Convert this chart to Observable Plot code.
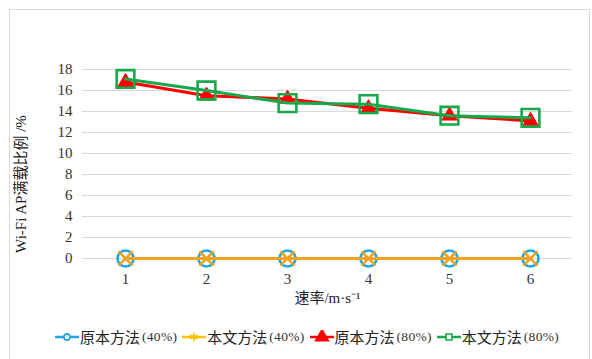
<!DOCTYPE html>
<html>
<head>
<meta charset="utf-8">
<script src="https://cdn.jsdelivr.net/npm/d3@7"></script>
<script src="https://cdn.jsdelivr.net/npm/@observablehq/plot@0.6"></script>
<style>
  html, body { margin: 0; padding: 0; background: #fff; }
  #wrap { position: relative; width: 592px; height: 359px; overflow: hidden; }
  #frame { position: absolute; left: 9px; top: 9px; width: 581px; height: 370px; border: 1px solid #d9d9d9; box-sizing: border-box; }
  #chart { position: absolute; left: 0; top: 0; }
  #legend { position: absolute; left: 55px; top: 327px; width: 530px; display: flex; justify-content: flex-start; align-items: center;
    font-family: "Noto Sans CJK SC", sans-serif; font-size: 15px; color: #222; line-height: 20px; }
  #legend .item { display: flex; align-items: center; margin-right: 5px; }
  #legend svg { margin-right: 1px; }
  #legend .pct { font-family: "Liberation Serif", serif; font-size: 13.5px; letter-spacing: 0.3px; margin-left: 2px; color: #333; }
</style>
</head>
<body>
<div id="wrap">
  <div id="frame"></div>
  <div id="chart"></div>
  <div id="legend"></div>
</div>
<script>
const speeds = [1, 2, 3, 4, 5, 6];
const seriesNames = ["原本方法(40%)", "本文方法(40%)", "原本方法(80%)", "本文方法(80%)"];
const orig40 = [0, 0, 0, 0, 0, 0];
const ours40 = [0, 0, 0, 0, 0, 0];
const orig80 = [16.8, 15.5, 15.2, 14.3, 13.6, 13.1];
const ours80 = [17.1, 16.0, 14.8, 14.7, 13.6, 13.4];
const yTicks = [0, 2, 4, 6, 8, 10, 12, 14, 16, 18];
const xLabel = "速率/m·s⁻¹";
const yLabel = "Wi-Fi AP满载比例 /%";

const colors = ["#1aa7e6", "#f0a224", "#ff0000", "#16a84a"];
const legendColors = ["#1aa7e6", "#ffc000", "#ff0000", "#16a84a"];
const symbols = ["circle", "times", "triangle", "square"];
const radii = [8, 6.5, 5.6, 10];
const fills = ["none", "none", "#ff0000", "none"];
const legendLabels = [["原本方法", "(40%)"], ["本文方法", "(40%)"], ["原本方法", "(80%)"], ["本文方法", "(80%)"]];

const allValues = [orig40, ours40, orig80, ours80];
const data = allValues.map((vals, i) => speeds.map((s, j) => ({speed: s, value: vals[j], series: i})));

const marks = [
  Plot.gridY(yTicks, {stroke: "#d9d9d9", strokeOpacity: 1, strokeWidth: 1})
];
data.forEach((d, i) => {
  marks.push(Plot.line(d, {x: "speed", y: "value", stroke: colors[i], strokeWidth: 3}));
  marks.push(Plot.dot(d, {x: "speed", y: "value", symbol: () => symbols[i], r: radii[i],
    stroke: colors[i], strokeWidth: i === 2 ? 1 : 2.6, fill: fills[i]}));
});
marks.push(Plot.axisY(yTicks, {tickSize: 0, tickPadding: 10, label: null, fontSize: 15, fill: "#333"}));
marks.push(Plot.axisX(speeds, {tickSize: 0, tickPadding: 15, label: null, fontSize: 15, fill: "#333"}));
marks.push(Plot.text([xLabel], {frameAnchor: "bottom", dy: 44, text: d => d,
  fontFamily: "Liberation Serif, Noto Sans CJK SC, serif", fontSize: 15, fill: "#222"}));

const chart = Plot.plot({
  width: 592,
  height: 318,
  marginLeft: 82,
  marginRight: 20,
  marginTop: 69,
  marginBottom: 60,
  x: {type: "point", domain: speeds, padding: 0.5},
  y: {domain: [0, 18]},
  style: {background: "transparent", overflow: "visible", fontFamily: "Liberation Serif, serif"},
  marks
});
document.getElementById("chart").appendChild(chart);

// y-axis title in the left margin
const svg = d3.select(chart);
svg.append("text")
  .attr("transform", "translate(23,184) rotate(-90)")
  .attr("text-anchor", "middle")
  .attr("dominant-baseline", "middle")
  .attr("font-family", "Liberation Serif, Noto Sans CJK SC, serif")
  .attr("font-size", 15)
  .attr("fill", "#222")
  .text(yLabel);

const legend = document.getElementById("legend");
seriesNames.forEach((name, i) => {
  const item = document.createElement("div");
  item.className = "item";
  const sw = d3.create("svg").attr("width", 24).attr("height", 14);
  sw.append("line").attr("x1", 0).attr("x2", 24).attr("y1", 7).attr("y2", 7)
    .attr("stroke", legendColors[i]).attr("stroke-width", 2.5);
  const symMap = {circle: d3.symbolCircle, times: d3.symbolAsterisk, triangle: d3.symbolTriangle, square: d3.symbolSquare};
  const sizes = [30, 50, 70, 36];
  sw.append("path").attr("d", d3.symbol(symMap[symbols[i]], sizes[i])())
    .attr("transform", "translate(12,7)")
    .attr("fill", i === 2 ? legendColors[i] : (i === 1 ? "none" : "#fff"))
    .attr("stroke", legendColors[i]).attr("stroke-width", 1.6);
  item.appendChild(sw.node());
  const t = document.createElement("span");
  t.textContent = legendLabels[i][0];
  const p = document.createElement("span");
  p.className = "pct";
  p.textContent = legendLabels[i][1];
  item.appendChild(t);
  item.appendChild(p);
  legend.appendChild(item);
});
</script>
</body>
</html>
